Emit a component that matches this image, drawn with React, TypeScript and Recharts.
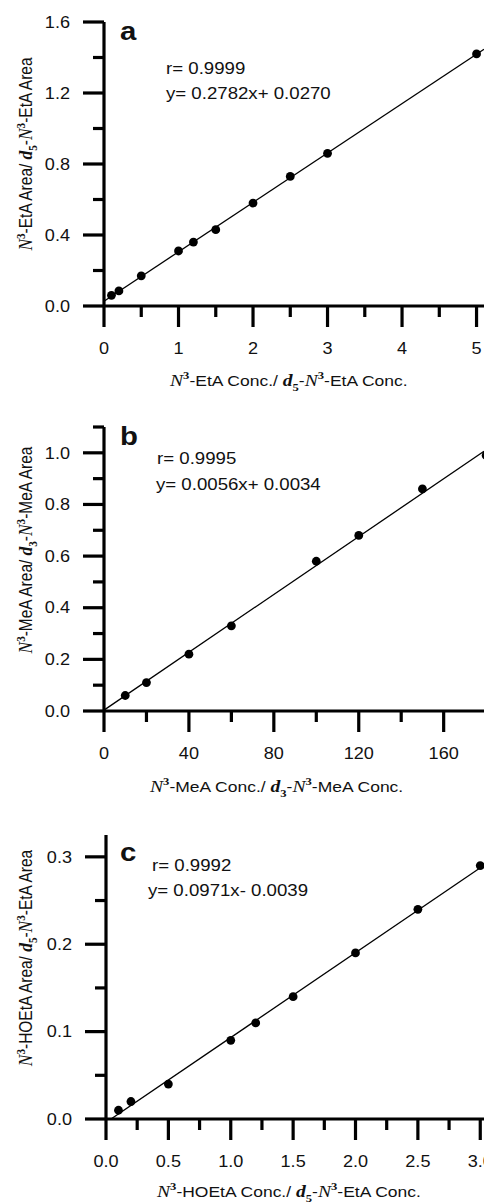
import React from "react";
import { ScatterChart, Scatter, XAxis, YAxis } from "recharts";

const SANS = "'Liberation Sans', Arial, sans-serif";
const SERIF = "'Liberation Serif', 'Times New Roman', serif";
// the scan is a little wider than tall, so text is stretched sideways
const SX = 1.13;

// panel a: N3-EtA
const xA = [0.1, 0.2, 0.5, 1, 1.2, 1.5, 2, 2.5, 3, 5];
const yA = [0.06, 0.085, 0.17, 0.31, 0.36, 0.43, 0.58, 0.73, 0.86, 1.42];
const fitA = [
  { x: 0, y: 0.027 },
  { x: 5.1, y: 1.446 },
];
const xTicksA = [0, 0.5, 1, 1.5, 2, 2.5, 3, 3.5, 4, 4.5, 5];
const xMajorA = [0, 1, 2, 3, 4, 5];
const yTicksA = [0, 0.2, 0.4, 0.6, 0.8, 1.0, 1.2, 1.4, 1.6];
const yMajorA = [0, 0.4, 0.8, 1.2, 1.6];

// panel b: N3-MeA
const xB = [10, 20, 40, 60, 100, 120, 150, 180];
const yB = [0.06, 0.11, 0.22, 0.33, 0.58, 0.68, 0.86, 0.99];
const fitB = [
  { x: 0, y: 0.0034 },
  { x: 179, y: 1.006 },
];
const xTicksB = [0, 20, 40, 60, 80, 100, 120, 140, 160];
const xMajorB = [0, 40, 80, 120, 160];
const yTicksB = [0, 0.1, 0.2, 0.3, 0.4, 0.5, 0.6, 0.7, 0.8, 0.9, 1.0, 1.1];
const yMajorB = [0, 0.2, 0.4, 0.6, 0.8, 1.0];

// panel c: N3-HOEtA
const xC = [0.1, 0.2, 0.5, 1, 1.2, 1.5, 2, 2.5, 3];
const yC = [0.01, 0.02, 0.04, 0.09, 0.11, 0.14, 0.19, 0.24, 0.29];
const fitC = [
  { x: 0.04, y: 0 },
  { x: 3.03, y: 0.2903 },
];
const xTicksC = [0, 0.25, 0.5, 0.75, 1, 1.25, 1.5, 1.75, 2, 2.25, 2.5, 2.75, 3];
const xMajorC = [0, 0.5, 1, 1.5, 2, 2.5, 3];
const yTicksC = [0, 0.05, 0.1, 0.15, 0.2, 0.25, 0.3];
const yMajorC = [0, 0.1, 0.2, 0.3];

const isMajor = (majors: number[], v: number) =>
  majors.some((m) => Math.abs(m - v) < 1e-9);

function T(props: {
  x: number;
  y: number;
  size: number;
  anchor?: "start" | "middle" | "end";
  bold?: boolean;
  dy?: string;
  children: React.ReactNode;
}) {
  return (
    <text
      transform={`translate(${props.x},${props.y}) scale(${SX},1)`}
      textAnchor={props.anchor || "start"}
      dy={props.dy}
      fontSize={props.size}
      fontWeight={props.bold ? "bold" : "normal"}
      fontFamily={SANS}
      fill="#111"
    >
      {props.children}
    </text>
  );
}

const makeXTick = (majors: number[], digits: number) => (p: any) => {
  const v = p.payload.value;
  const major = isMajor(majors, v);
  return (
    <g>
      <line x1={p.x} x2={p.x} y1={p.y} y2={p.y + (major ? 21 : 11)} stroke="#000" strokeWidth={3.2} />
      {major && (
        <T x={p.x} y={p.y + 48} size={16} anchor="middle">
          {v.toFixed(digits)}
        </T>
      )}
    </g>
  );
};

const makeYTick = (majors: number[], digits: number) => (p: any) => {
  const v = p.payload.value;
  const major = isMajor(majors, v);
  return (
    <g>
      <line x1={p.x - (major ? 21 : 11)} x2={p.x} y1={p.y} y2={p.y} stroke="#000" strokeWidth={3.2} />
      {major && (
        <T x={p.x - 34} y={p.y} size={16} anchor="end" dy="0.36em">
          {v.toFixed(digits)}
        </T>
      )}
    </g>
  );
};

const Dot = (p: any) => <circle cx={p.cx} cy={p.cy} r={4.4} fill="#000" />;
const NoDot = () => <g />;

type Seg = [string, string];

function Rich({ segs, size }: { segs: Seg[]; size: number }) {
  let shift = 0;
  return (
    <>
      {segs.map(([t, k], i) => {
        let target = 0;
        if (k === "sup") target = -0.42 * size;
        if (k === "sub") target = 0.3 * size;
        const dy = target - shift;
        shift = target;
        const style: any = { fontFamily: SANS, fontSize: size };
        if (k === "i") Object.assign(style, { fontFamily: SERIF, fontStyle: "italic", fontSize: size * 1.12 });
        if (k === "bi")
          Object.assign(style, { fontFamily: SERIF, fontStyle: "italic", fontWeight: "bold", fontSize: size * 1.12 });
        if (k === "sup" || k === "sub")
          Object.assign(style, { fontFamily: SERIF, fontWeight: "bold", fontSize: size * 0.72 });
        return (
          <tspan key={i} dy={dy} {...style}>
            {t}
          </tspan>
        );
      })}
    </>
  );
}

const axisTitle = (mid: string, d: string, sub: string, tail: string): Seg[] => [
  ["N", "i"],
  ["3", "sup"],
  [mid, ""],
  [d, "bi"],
  [sub, "sub"],
  ["-", ""],
  ["N", "i"],
  ["3", "sup"],
  [tail, ""],
];

function Panel(props: {
  top: number;
  height: number;
  left: number;
  xs: number[];
  ys: number[];
  fit: { x: number; y: number }[];
  xDomain: [number, number];
  yDomain: [number, number];
  xTicks: number[];
  xMajor: number[];
  yTicks: number[];
  yMajor: number[];
  xDigits: number;
  yDigits: number;
}) {
  const points = props.xs.map((x, i) => ({ x, y: props.ys[i] }));
  const axisLine = { stroke: "#000", strokeWidth: 3.2 };
  return (
    <div style={{ position: "absolute", top: props.top, left: 0 }}>
      <ScatterChart
        width={484}
        height={props.height}
        margin={{ top: 22, right: 0, bottom: 0, left: props.left - 60 }}
      >
        <XAxis
          type="number"
          dataKey="x"
          domain={props.xDomain}
          ticks={props.xTicks}
          interval={0}
          allowDataOverflow
          tickSize={0}
          tickMargin={0}
          tickLine={false}
          axisLine={axisLine}
          tick={makeXTick(props.xMajor, props.xDigits)}
          height={props.height - 22 - 284}
        />
        <YAxis
          type="number"
          dataKey="y"
          domain={props.yDomain}
          ticks={props.yTicks}
          interval={0}
          allowDataOverflow
          tickSize={0}
          tickMargin={0}
          tickLine={false}
          axisLine={axisLine}
          tick={makeYTick(props.yMajor, props.yDigits)}
          width={60}
        />
        <Scatter
          data={props.fit}
          line={{ stroke: "#000", strokeWidth: 1.3 }}
          shape={NoDot}
          isAnimationActive={false}
        />
        <Scatter data={points} shape={Dot} isAnimationActive={false} />
      </ScatterChart>
    </div>
  );
}

const yTitle = (cy: number, segs: Seg[]) => (
  <text transform={`translate(32,${cy}) scale(${SX},1) rotate(-90)`} textAnchor="middle">
    <Rich segs={segs} size={15.5} />
  </text>
);

const xTitle = (x: number, y: number, segs: Seg[]) => (
  <text transform={`translate(${x},${y}) scale(${SX},1)`}>
    <Rich segs={segs} size={15.5} />
  </text>
);

export default function App() {
  return (
    <div style={{ position: "absolute", top: 0, left: 0, width: 484, height: 1203, background: "#fff", overflow: "hidden" }}>
      <Panel
        top={0}
        height={400}
        left={104}
        xs={xA}
        ys={yA}
        fit={fitA}
        xDomain={[0, 5.1]}
        yDomain={[0, 1.6]}
        xTicks={xTicksA}
        xMajor={xMajorA}
        yTicks={yTicksA}
        yMajor={yMajorA}
        xDigits={0}
        yDigits={1}
      />
      <Panel
        top={405}
        height={400}
        left={104}
        xs={xB}
        ys={yB}
        fit={fitB}
        xDomain={[0, 179]}
        yDomain={[0, 1.1]}
        xTicks={xTicksB}
        xMajor={xMajorB}
        yTicks={yTicksB}
        yMajor={yMajorB}
        xDigits={0}
        yDigits={1}
      />
      <Panel
        top={813}
        height={390}
        left={106}
        xs={xC}
        ys={yC}
        fit={fitC}
        xDomain={[0, 3.03]}
        yDomain={[0, 0.325]}
        xTicks={xTicksC}
        xMajor={xMajorC}
        yTicks={yTicksC}
        yMajor={yMajorC}
        xDigits={1}
        yDigits={1}
      />
      <svg
        width={484}
        height={1203}
        style={{ position: "absolute", top: 0, left: 0, pointerEvents: "none" }}
      >
        <g fill="#111">
          <T x={120} y={40} size={26} bold>a</T>
          <T x={166} y={74} size={16.5}>r= 0.9999</T>
          <T x={166} y={99} size={16.5}>y= 0.2782x+ 0.0270</T>

          <T x={120} y={445} size={26} bold>b</T>
          <T x={157} y={464} size={16.5}>r= 0.9995</T>
          <T x={156} y={490} size={16.5}>y= 0.0056x+ 0.0034</T>

          <T x={120} y={861} size={26} bold>c</T>
          <T x={152} y={871} size={16.5}>r= 0.9992</T>
          <T x={148} y={896} size={16.5}>y= 0.0971x- 0.0039</T>

          {xTitle(170, 386, axisTitle("-EtA Conc./ ", "d", "5", "-EtA Conc."))}
          {xTitle(150, 792, axisTitle("-MeA Conc./ ", "d", "3", "-MeA Conc."))}
          {xTitle(157, 1197, axisTitle("-HOEtA Conc./ ", "d", "5", "-EtA Conc."))}

          {yTitle(154, axisTitle("-EtA Area/ ", "d", "5", "-EtA Area"))}
          {yTitle(550, axisTitle("-MeA Area/ ", "d", "3", "-MeA Area"))}
          {yTitle(958, axisTitle("-HOEtA Area/ ", "d", "5", "-EtA Area"))}
        </g>
      </svg>
    </div>
  );
}
